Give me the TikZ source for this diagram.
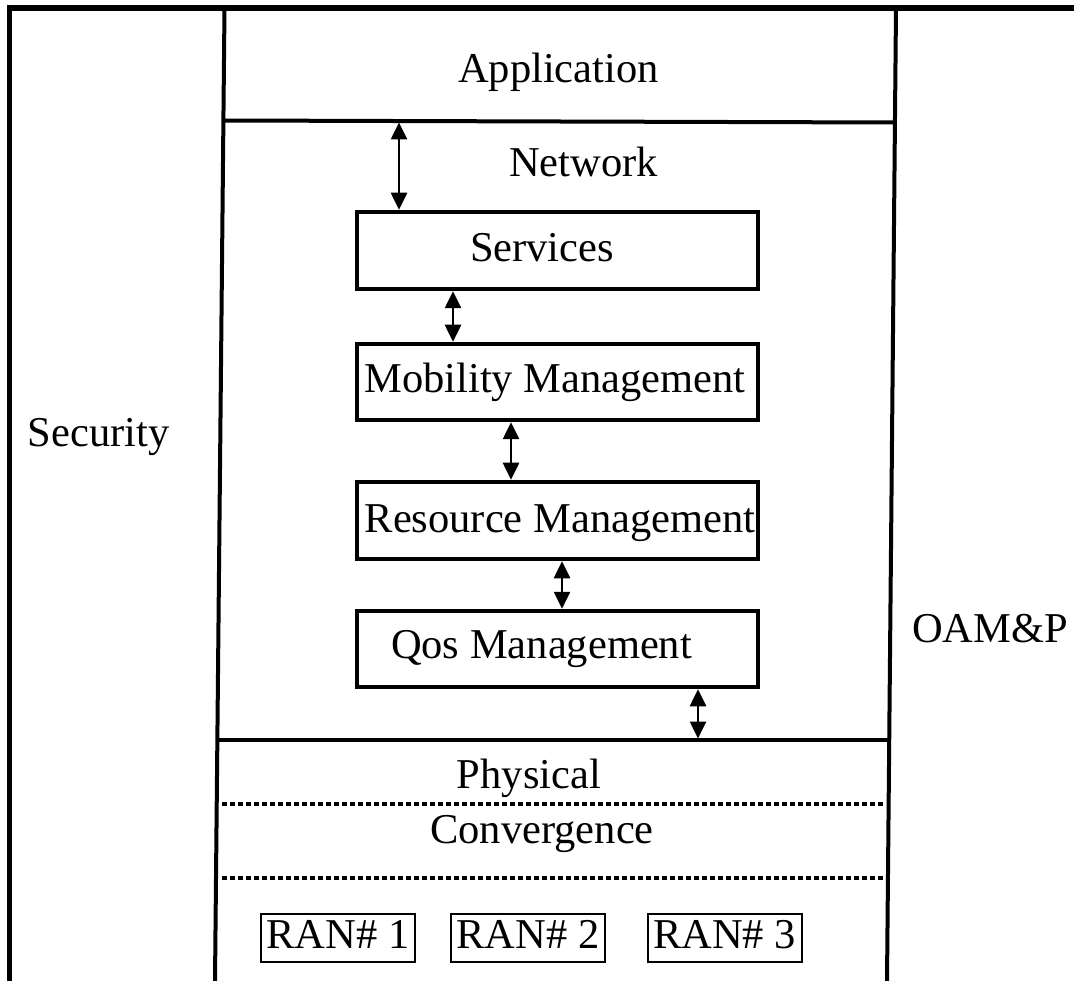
\documentclass[tikz,border=0pt]{standalone}
\usepackage{fontspec}
\setmainfont{Liberation Serif}
\usetikzlibrary{arrows.meta}

\begin{document}
\begin{tikzpicture}[x=1pt,y=-1pt,
  lbl/.style={inner sep=0pt,anchor=base,font=\fontsize{42.5}{50}\selectfont},
  layerbox/.style={draw,line width=4.5pt,minimum width=401pt,minimum height=77pt,inner sep=0pt},
  ranbox/.style={draw,line width=2pt,minimum width=154pt,minimum height=48pt,inner sep=0pt,
    text height=28pt,text depth=8pt,font=\fontsize{42.5}{50}\selectfont},
  frame/.style={line width=5.5pt},
  divider/.style={line width=4pt},
  dotline/.style={line width=4pt,dash pattern=on 4.5pt off 3.5pt},
  dbl/.style={line width=2.6pt,{Triangle[length=17pt,width=16pt]}-{Triangle[length=17pt,width=16pt]}}
]
\useasboundingbox (0,0) rectangle (1074,981);

% outer frame: top rule and left rule
\draw[frame] (7,8) -- (1074,8);
\draw[frame] (9.5,5.5) -- (9.5,981);

% central column borders
\draw[divider] (224.5,8) -- (215,981);
\draw[divider] (896,8) -- (887,981);

% horizontal layer separators
\coordinate (sepAL) at (224,120.5);
\coordinate (sepAR) at (894.5,122.5);
\draw[divider] (sepAL) -- (sepAR);
\coordinate (sepNL) at (216,740);
\coordinate (sepNR) at (888,740);
\draw[divider] (sepNL) -- (sepNR);
\draw[dotline] (222,804) -- (883,804);
\draw[dotline] (222,878.3) -- (883,878.3);

% side and layer labels
\node[lbl] (security) at (98.5,447) {Security};
\node[lbl] (oamp) at (990,642) {OAM\&P};
\node[lbl] (application) at (558.5,83) {Application};
\node[lbl] (network) at (583.5,177) {Network};
\node[lbl] (physical) at (529,788) {Physical};
\node[lbl] (convergence) at (542,843) {Convergence};

% network function boxes
\node[layerbox] (srv) at (557.5,250.5) {};
\node[layerbox,minimum height=76pt] (mob) at (557.5,382) {};
\node[layerbox] (res) at (557.5,520.5) {};
\node[layerbox,minimum height=76pt] (qos) at (557.5,649) {};
\node[lbl] (srvtxt) at (542,262) {Services};
\node[lbl] (mobtxt) at (555,393) {Mobility Management};
\node[lbl] (restxt) at (560,532) {Resource Management};
\node[lbl] (qostxt) at (541.5,658) {Qos Management};

% radio access networks
\node[ranbox] (ran1) at (338,938) {RAN\# 1};
\node[ranbox] (ran2) at (528,938) {RAN\# 2};
\node[ranbox] (ran3) at (724.5,938) {RAN\# 3};

% bidirectional links
\coordinate (a1) at (399,122.5);
\coordinate (a2) at (453,0);
\coordinate (a3) at (511,0);
\coordinate (a4) at (562,0);
\coordinate (a5) at (698,738.5);
\draw[dbl] (a1) -- (srv.north -| a1);
\draw[dbl] (srv.south -| a2) -- (mob.north -| a2);
\draw[dbl] (mob.south -| a3) -- (res.north -| a3);
\draw[dbl] (res.south -| a4) -- (qos.north -| a4);
\draw[dbl] (qos.south -| a5) -- (a5);
\end{tikzpicture}
\end{document}
